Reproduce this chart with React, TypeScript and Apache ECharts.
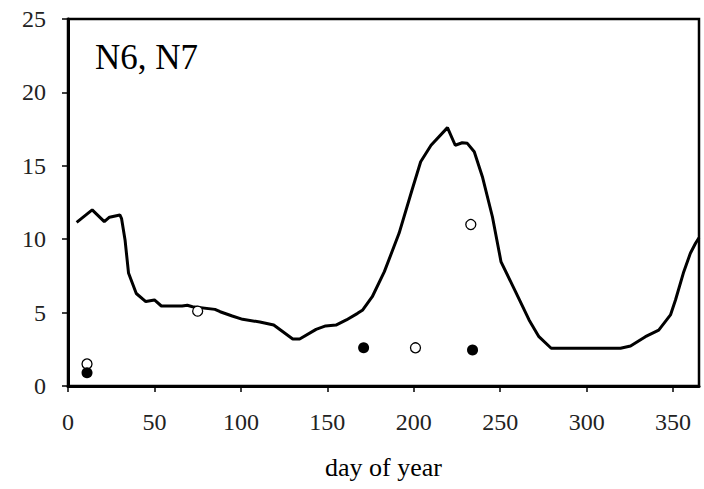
import React, { useEffect, useRef } from "react";
import * as echarts from "echarts";

const days = [5, 14, 21, 24, 30, 31, 33, 35, 39.5, 45, 50, 54, 66, 69, 72, 85, 88, 95, 101, 111, 119, 130, 134, 143.5, 149, 155, 161, 167.5, 170.5, 176, 183, 191.5, 199, 204, 210, 219.5, 224, 228, 231, 235, 239.7, 245.5, 250.5, 259, 266.7, 272.4, 279.5, 319.6, 325.4, 334, 341.7, 348.5, 351.4, 356.2, 360, 363, 365];
const modelValues = [11.15, 12.0, 11.2, 11.5, 11.65, 11.4, 9.95, 7.7, 6.3, 5.75, 5.86, 5.45, 5.45, 5.5, 5.4, 5.22, 5.06, 4.77, 4.54, 4.36, 4.15, 3.2, 3.2, 3.86, 4.09, 4.15, 4.5, 4.95, 5.18, 6.08, 7.79, 10.4, 13.35, 15.28, 16.4, 17.6, 16.4, 16.57, 16.53, 15.96, 14.26, 11.53, 8.45, 6.4, 4.5, 3.36, 2.57, 2.57, 2.72, 3.36, 3.81, 4.84, 5.86, 7.79, 9.04, 9.72, 10.1];

const openDays = [11, 75, 201, 233];
const openValues = [1.5, 5.1, 2.6, 11.0];
const filledDays = [11, 171, 234];
const filledValues = [0.9, 2.6, 2.45];

const xTicks = [0, 50, 100, 150, 200, 250, 300, 350];
const yTicks = [0, 5, 10, 15, 20, 25];
const panelLabel = "N6, N7";
const xAxisName = "day of year";

const FONT = "'Liberation Serif', 'Times New Roman', serif";

export default function App() {
  const ref = useRef<HTMLDivElement>(null);
  useEffect(() => {
    if (!ref.current) return;
    const chart = echarts.init(ref.current, undefined, { renderer: "svg" });
    chart.setOption({
      animation: false,
      backgroundColor: "#ffffff",
      grid: {
        left: 68,
        right: 5,
        top: 19,
        bottom: 103,
        show: true,
        borderColor: "#000",
        borderWidth: 2.5,
        backgroundColor: "transparent",
      },
      graphic: [
        {
          type: "text",
          left: 95,
          top: 40,
          style: { text: panelLabel, font: `35px ${FONT}`, fill: "#000" },
        },
      ],
      xAxis: {
        type: "value",
        min: 0,
        max: 365,
        interval: 50,
        name: xAxisName,
        nameLocation: "middle",
        nameGap: 68,
        nameTextStyle: { fontFamily: FONT, fontSize: 26, color: "#000" },
        axisLine: { show: true, onZero: false, lineStyle: { color: "#000", width: 3 } },
        axisTick: { show: true, inside: false, length: 6, lineStyle: { color: "#000", width: 1.5 } },
        axisLabel: {
          showMaxLabel: false,
          margin: 24,
          fontFamily: FONT,
          fontSize: 24,
          color: "#222",
          formatter: (v: number) => (xTicks.includes(v) ? String(v) : ""),
        },
        splitLine: { show: false },
      },
      yAxis: {
        type: "value",
        min: 0,
        max: 25,
        interval: 5,
        axisLine: { show: true, onZero: false, lineStyle: { color: "#000", width: 3 } },
        axisTick: { show: true, inside: false, length: 6, lineStyle: { color: "#000", width: 1.5 } },
        axisLabel: {
          margin: 22,
          fontFamily: FONT,
          fontSize: 24,
          color: "#222",
          formatter: (v: number) => (yTicks.includes(v) ? String(v) : ""),
        },
        splitLine: { show: false },
      },
      series: [
        {
          type: "line",
          data: days.map((d, i) => [d, modelValues[i]]),
          showSymbol: false,
          symbol: "none",
          lineStyle: { color: "#000", width: 3 },
          z: 2,
        },
        {
          type: "scatter",
          data: openDays.map((d, i) => [d, openValues[i]]),
          symbol: "circle",
          symbolSize: 10,
          itemStyle: { color: "#fff", borderColor: "#000", borderWidth: 1.3, opacity: 1 },
          z: 3,
        },
        {
          type: "scatter",
          data: filledDays.map((d, i) => [d, filledValues[i]]),
          symbol: "circle",
          symbolSize: 11,
          itemStyle: { color: "#000", borderColor: "#000", borderWidth: 0, opacity: 1 },
          z: 4,
        },
      ],
    });
    return () => chart.dispose();
  }, []);
  return (
    <div
      ref={ref}
      style={{ position: "fixed", left: 0, top: 0, width: 704, height: 489, background: "#fff" }}
    />
  );
}
